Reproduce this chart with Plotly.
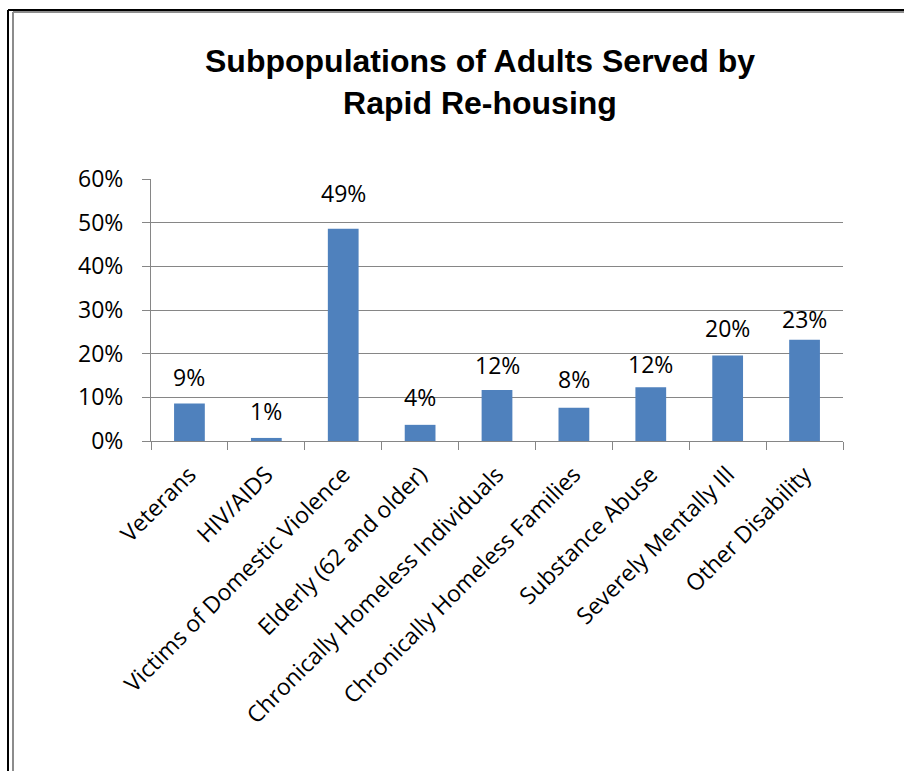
import plotly.graph_objects as go

# Subpopulations of adults served by rapid re-housing (share of adults)
categories = [
    "Veterans",
    "HIV/AIDS",
    "Victims of Domestic Violence",
    "Elderly (62 and older)",
    "Chronically Homeless Individuals",
    "Chronically Homeless Families",
    "Substance Abuse",
    "Severely Mentally Ill",
    "Other Disability",
]
shares = [0.086, 0.007, 0.486, 0.037, 0.117, 0.076, 0.123, 0.196, 0.232]

y_ticks = [0.0, 0.1, 0.2, 0.3, 0.4, 0.5, 0.6]
y_tick_labels = ["0%", "10%", "20%", "30%", "40%", "50%", "60%"]

BAR_COLOR = "#4F81BD"
AXIS_GRAY = "#868686"
LABEL_FONT = dict(family="Open Sans, Lato, sans-serif", size=23, color="#000000")

# vertical lift (px) of each value label above its bar
LABEL_LIFT = [8, 9, 18, 10, 7, 11, 5, 9, 3]

W, H = 904, 771
PLOT_L, PLOT_R, PLOT_T, PLOT_B = 151, 843, 179, 441

fig = go.Figure()
fig.add_trace(
    go.Bar(
        x=categories,
        y=shares,
        marker=dict(color=BAR_COLOR, line=dict(width=0)),
        hoverinfo="x+y",
    )
)

# value labels above each bar
for cat, val, lift in zip(categories, shares, LABEL_LIFT):
    fig.add_annotation(
        x=cat,
        y=val,
        text=f"{val:.0%}",
        showarrow=False,
        yanchor="bottom",
        yshift=lift,
        font=LABEL_FONT,
    )

# document frame: double rule on top and left edges
frame = [
    dict(x0=8, y0=10, x1=8, y1=H, color="#000000", width=2),
    dict(x0=8, y0=10, x1=W, y1=10, color="#000000", width=2),
    dict(x0=13, y0=12, x1=13, y1=H, color="#8c8c8c", width=2),
    dict(x0=13, y0=12, x1=W, y1=12, color="#8c8c8c", width=2),
]
pw, ph = PLOT_R - PLOT_L, PLOT_B - PLOT_T
for f in frame:
    fig.add_shape(
        type="line",
        xref="paper",
        yref="paper",
        x0=(f["x0"] - PLOT_L) / pw,
        x1=(f["x1"] - PLOT_L) / pw,
        y0=(PLOT_B - f["y0"]) / ph,
        y1=(PLOT_B - f["y1"]) / ph,
        line=dict(color=f["color"], width=f["width"]),
        layer="above",
    )

fig.update_layout(
    width=W,
    height=H,
    margin=dict(l=PLOT_L, r=W - PLOT_R, t=PLOT_T, b=H - PLOT_B, pad=0),
    paper_bgcolor="#ffffff",
    plot_bgcolor="#ffffff",
    bargap=0.6,
    showlegend=False,
    title=dict(
        text="<b>Subpopulations of Adults Served by<br>Rapid Re-housing</b>",
        font=dict(family="Liberation Sans, Arial, sans-serif", size=32, color="#000000"),
        x=480 / W,
        xref="container",
        xanchor="center",
        y=1 - 72 / H,
        yref="container",
        yanchor="top",
    ),
    xaxis=dict(
        type="category",
        showline=True,
        linecolor=AXIS_GRAY,
        linewidth=1,
        showgrid=False,
        ticks="outside",
        tickson="boundaries",
        ticklen=8,
        tickcolor=AXIS_GRAY,
        tickwidth=1,
        tickangle=-45,
        tickfont=LABEL_FONT,
        ticklabelstandoff=10,
    ),
    yaxis=dict(
        range=[0, 0.6],
        tickvals=y_ticks,
        ticktext=y_tick_labels,
        showline=True,
        linecolor=AXIS_GRAY,
        linewidth=1,
        showgrid=True,
        gridcolor=AXIS_GRAY,
        gridwidth=1,
        zeroline=False,
        ticks="outside",
        ticklen=8,
        tickcolor=AXIS_GRAY,
        tickwidth=1,
        tickfont=LABEL_FONT,
        ticklabelstandoff=14,
    ),
)

fig.write_html("out.html")
